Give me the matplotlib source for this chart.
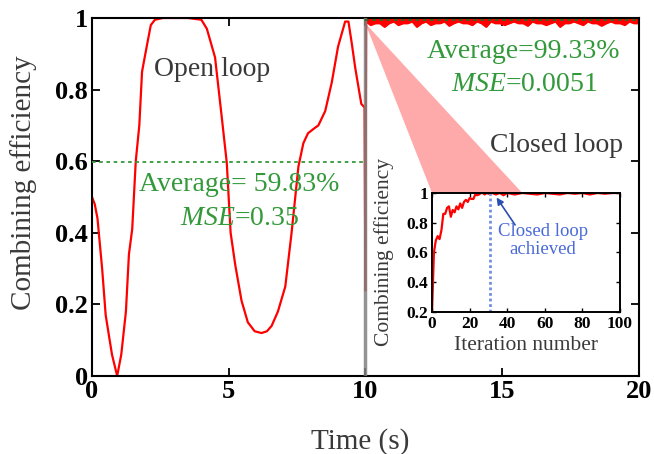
import numpy as np
import matplotlib
matplotlib.use('Agg')
import matplotlib.pyplot as plt
from matplotlib.patches import Polygon

# -------------------------------
# data
# -------------------------------
# open loop (0-10 s)
t_open = [0.0, 0.1, 0.2, 0.37, 0.5, 0.73, 0.92, 1.07, 1.24, 1.35, 1.47, 1.6, 1.73, 1.83,
          2.0, 2.15, 2.3, 2.6, 3.0, 3.5, 4.0, 4.2, 4.5, 4.75, 4.93, 5.07, 5.24, 5.47,
          5.7, 5.95, 6.2, 6.4, 6.57, 6.8, 7.07, 7.3, 7.55, 7.73, 7.9, 8.1, 8.28, 8.53,
          8.77, 9.0, 9.26, 9.38, 9.5, 9.63, 9.85, 9.97, 10.0]
v_open = [0.50, 0.48, 0.44, 0.30, 0.17, 0.06, 0.0, 0.06, 0.18, 0.34, 0.41, 0.60, 0.70, 0.85,
          0.92, 0.98, 0.995, 1.0, 1.0, 1.0, 0.995, 0.97, 0.89, 0.72, 0.595, 0.40, 0.31, 0.21,
          0.15, 0.125, 0.12, 0.125, 0.14, 0.18, 0.25, 0.40, 0.585, 0.65, 0.678, 0.69, 0.70, 0.74,
          0.82, 0.92, 0.99, 0.99, 0.93, 0.86, 0.76, 0.75, 0.24]
avg_open = 0.5983

# closed loop (10-20 s), samples evenly spaced
v_closed = [0.99, 0.98, 0.985, 0.985, 0.975, 0.985, 0.99, 0.98, 0.985, 0.985, 0.99, 0.975, 0.985, 0.99,
            0.98, 0.985, 0.985, 0.99, 0.978, 0.985, 0.99, 0.985, 0.985, 0.98, 0.99, 0.985, 0.975, 0.99,
            0.985, 0.985, 0.98, 0.985, 0.99, 0.985, 0.985, 0.978, 0.99, 0.985, 0.985, 0.98, 0.985, 0.99,
            0.975, 0.985, 0.985, 0.99, 0.985, 0.98, 0.99, 0.985, 0.985, 0.978, 0.985, 0.99, 0.985, 0.985,
            0.98, 0.99, 0.985, 0.985]
avg_closed = 0.9933

# inset: efficiency vs iteration
it_inset = [0, 1, 2, 3, 4, 5, 6, 7, 8, 9, 10, 11, 12, 13, 14, 15, 16, 17, 18, 19, 20, 21,
            22, 23, 24, 25, 26, 27, 28, 29, 30, 32, 34, 36, 38, 40, 44, 48, 52, 56, 60,
            64, 68, 72, 76, 80, 84, 88, 92, 96, 100]
v_inset = [0.2, 0.6, 0.68, 0.71, 0.69, 0.75, 0.86, 0.86, 0.9, 0.91, 0.84, 0.886, 0.87, 0.91,
           0.89, 0.93, 0.9, 0.94, 0.954, 0.94, 0.966, 0.96, 0.96, 0.99, 0.985, 0.99, 1.0, 1.0,
           0.99, 1.0, 0.995, 1.0, 0.99, 1.0, 0.985, 1.0, 0.99, 1.0, 0.995, 0.99, 1.0,
           0.995, 0.99, 1.0, 0.995, 1.0, 0.99, 1.0, 0.995, 1.0, 1.0]
it_achieved = 31

x_ticks = [0, 5, 10, 15, 20]
y_ticks = [0, 0.2, 0.4, 0.6, 0.8, 1]
y_ticklabels = ['0', '0.2', '0.4', '0.6', '0.8', '1']
ix_ticks = [0, 20, 40, 60, 80, 100]
iy_ticks = [0.2, 0.4, 0.6, 0.8, 1]
iy_ticklabels = ['0.2', '0.4', '0.6', '0.8', '1']

plt.rcParams['font.family'] = 'Liberation Serif'
plt.rcParams['mathtext.fontset'] = 'custom'
plt.rcParams['mathtext.it'] = 'Liberation Serif:italic'
plt.rcParams['mathtext.rm'] = 'Liberation Serif'

green = '#33993a'
label_col = '#3a3a3a'

fig = plt.figure(figsize=(6.54, 4.54), dpi=100)
ax = fig.add_axes([0.1407, 0.1718, 0.836, 0.7886])

t_closed = np.linspace(10.03, 20, len(v_closed))
ax.plot(t_open, v_open, color='red', lw=1.6, zorder=2)
ax.plot([10.0] + list(t_closed), [0.24] + v_closed, color='red', lw=1.5, zorder=2)
ax.fill_between(t_closed, v_closed, 1.0, color='red', lw=0, zorder=2)
ax.axvline(10, color='#808080', lw=2.5, alpha=0.85, zorder=3)
ax.plot([0, 10], [avg_open, avg_open], color=green, lw=1.3, ls=(0, (2, 2)), zorder=4)
ax.plot([10, 20], [avg_closed, avg_closed], color='#336622', lw=1.3, ls=(0, (2, 2)), zorder=4)

ax.set_xlim(0, 20)
ax.set_ylim(0, 1)
ax.set_xticks(x_ticks)
ax.set_yticks(y_ticks)
ax.set_yticklabels(y_ticklabels)
ax.tick_params(direction='in', length=6, width=1.3, labelsize=19, top=True, right=True, pad=3)
for lab in ax.get_xticklabels() + ax.get_yticklabels():
    lab.set_fontweight('bold')
for sp in ax.spines.values():
    sp.set_linewidth(1.5)

ax.set_xlabel('Time (s)', fontsize=21, color=label_col)
ax.xaxis.set_label_coords(0.49, -0.145)
ax.set_ylabel('Combining efficiency', fontsize=21, color=label_col)
ax.yaxis.set_label_coords(-0.10, 0.54)

ax.text(4.4, 0.855, 'Open loop', fontsize=20, color=label_col, ha='center', va='center')
ax.text(17.0, 0.645, 'Closed loop', fontsize=20, color=label_col, ha='center', va='center')
ax.text(5.4, 0.534, 'Average= 59.83%', fontsize=20, color=green, ha='center', va='center')
ax.text(5.4, 0.44, r'$\mathit{MSE}$=0.35', fontsize=20, color=green, ha='center', va='center')
ax.text(15.8, 0.905, 'Average=99.33%', fontsize=20, color=green, ha='center', va='center')
ax.text(15.8, 0.813, r'$\mathit{MSE}$=0.0051', fontsize=20, color=green, ha='center', va='center')

# inset
ins_pos = [0.6606, 0.3128, 0.2875, 0.2621]
axi = fig.add_axes(ins_pos)
axi.plot(it_inset, v_inset, color='red', lw=1.6)
axi.axvline(it_achieved, color='#6f8fe0', lw=2.0, ls=(0, (1, 1)))
axi.annotate('', xy=(33.5, 0.985), xytext=(45, 0.77),
             arrowprops=dict(arrowstyle='-|>', color='#2a4fb0', lw=1.2, mutation_scale=10))
axi.text(59, 0.68, 'Closed loop\nachieved', fontsize=13.5, color='#4a6ad8',
         ha='center', va='center', linespacing=1.1)
axi.set_xlim(0, 100)
axi.set_ylim(0.2, 1)
axi.set_xticks(ix_ticks)
axi.set_yticks(iy_ticks)
axi.set_yticklabels(iy_ticklabels)
axi.tick_params(direction='in', length=3, width=1.0, labelsize=12.5, top=True, right=True, pad=3)
for lab in axi.get_xticklabels() + axi.get_yticklabels():
    lab.set_fontweight('bold')
for sp in axi.spines.values():
    sp.set_linewidth(1.4)
axi.set_xlabel('Iteration number', fontsize=15.5, color=label_col)
axi.xaxis.set_label_coords(0.5, -0.2)
axi.set_ylabel('Combining efficiency', fontsize=15.5, color=label_col)
axi.yaxis.set_label_coords(-0.2, 0.5)

# pink cone from t=10 to the inset
fig.canvas.draw()
vx, vy = fig.transFigure.inverted().transform(ax.transData.transform((10.0, 0.985)))
x0, y1 = ins_pos[0], ins_pos[1] + ins_pos[3]
cone = Polygon([(vx, vy), (x0, y1), (x0 + 0.48 * ins_pos[2], y1)], closed=True,
               transform=fig.transFigure, facecolor='#ffaaaa', edgecolor='none', zorder=1.5)
ax.add_patch(cone)

fig.savefig('out.png', dpi=100)
